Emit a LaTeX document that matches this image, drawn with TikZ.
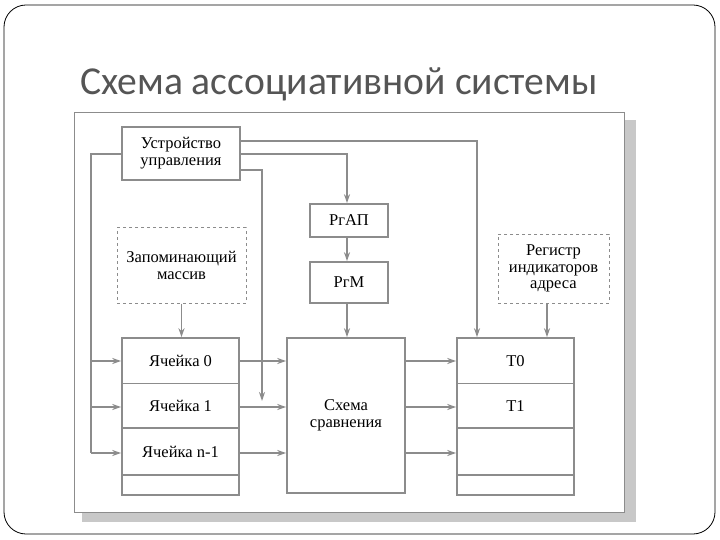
\documentclass[tikz,border=0pt]{standalone}
\usepackage{fontspec}
\setmainfont{Liberation Serif}
\newfontfamily\titlefont{Carlito}
\usetikzlibrary{arrows.meta}
\definecolor{ln}{HTML}{8C8C8C}
\definecolor{shd}{HTML}{C8C8C8}
\definecolor{ttl}{HTML}{555555}
\tikzset{
  box/.style={draw=ln, line width=1.6pt, fill=white, inner sep=0pt, align=center, font=\fontsize{16.5}{17}\selectfont},
  dbox/.style={draw=ln, line width=1pt, dashed, fill=white, inner sep=0pt, align=center, font=\fontsize{16.5}{16.5}\selectfont},
  conn/.style={draw=ln, line width=1.4pt},
  arr/.style={conn, -{Stealth[length=9pt,width=6pt]}},
  lbl/.style={font=\fontsize{16.5}{17}\selectfont, inner sep=0pt}
}
\begin{document}
\begin{tikzpicture}[x=1pt,y=-1pt]
\useasboundingbox (0,0) rectangle (720,540);
% slide frame
\draw[black, line width=0.8pt, rounded corners=22pt] (4,5) rectangle (715,534);
% title
\node[anchor=base west, inner sep=0pt, text=ttl, font=\titlefont\fontsize{39.6}{44}\selectfont] (title) at (80,95) {Схема ассоциативной системы};
% panel with shadow
\fill[shd] (82,120) rectangle (636,522);
\draw[ln, line width=1pt, fill=white] (74,113) rectangle (624,512);
% nodes
\node[box, minimum width=118pt, minimum height=53pt] (uu) at (181,153.5) {Устройство\\управления};
\node[dbox, minimum width=129pt, minimum height=75pt] (zm) at (181.5,265.5) {Запоминающий\\массив};
\node[box, minimum width=78pt, minimum height=33pt] (rap) at (349,220.5) {РгАП};
\node[box, minimum width=78pt, minimum height=41pt] (rm) at (349,282.5) {РгМ};
\node[dbox, minimum width=111pt, minimum height=69pt] (ria) at (553.5,268.5) {Регистр\\индикаторов\\адреса};
% memory cells
\node[box, minimum width=117pt, minimum height=157pt] (mem) at (180.5,416.5) {};
\node[box, minimum width=118pt, minimum height=155pt] (cmp) at (346,415.5) {Схема\\сравнения};
\node[box, minimum width=117pt, minimum height=157pt] (tt) at (515.5,416.5) {};
\draw[ln, line width=1pt] (mem.west |- 0,383) -- (mem.east |- 0,383);
\draw[ln, line width=1.6pt] (mem.west |- 0,428) -- (mem.east |- 0,428);
\draw[ln, line width=1.6pt] (mem.west |- 0,475) -- (mem.east |- 0,475);
\draw[ln, line width=1pt] (tt.west |- 0,383) -- (tt.east |- 0,383);
\draw[ln, line width=1.6pt] (tt.west |- 0,428) -- (tt.east |- 0,428);
\draw[ln, line width=1.6pt] (tt.west |- 0,475) -- (tt.east |- 0,475);
\node[lbl] (c0) at (180.5,361) {Ячейка 0};
\node[lbl] (c1) at (180.5,406) {Ячейка 1};
\node[lbl] (c2) at (180.5,452) {Ячейка n-1};
\node[lbl] (t0) at (515.5,361) {T0};
\node[lbl] (t1) at (515.5,406) {T1};
% coordinates
\coordinate (ul) at (91,154);
\coordinate (ur) at (477,141);
\coordinate (um) at (347,154);
\coordinate (ud) at (262,170);
% connectors from control unit
\draw[conn] (uu.west |- ul) -- (ul) -- (91,453);
\draw[arr] (91,361) -- (mem.west |- 0,361);
\draw[arr] (91,407) -- (mem.west |- 0,407);
\draw[arr] (91,453) -- (mem.west |- 0,453);
\draw[arr] (uu.east |- ur) -- (ur) -- (tt.north -| ur);
\draw[arr] (uu.east |- um) -- (um) -- (rap.north -| um);
\draw[arr] (uu.east |- ud) -- (ud) -- (262,401);
\draw[arr] (rap.south -| um) -- (rm.north -| um);
\draw[arr] (rm.south -| um) -- (cmp.north -| um);
\draw[arr] (zm.south) -- (mem.north -| zm.south);
\draw[arr] (ria.south -| 547,0) -- (tt.north -| 547,0);
% cells to comparison
\draw[arr] (mem.east |- 0,361) -- (cmp.west |- 0,361);
\draw[arr] (mem.east |- 0,407) -- (cmp.west |- 0,407);
\draw[arr] (mem.east |- 0,453) -- (cmp.west |- 0,453);
\draw[arr] (cmp.east |- 0,361) -- (tt.west |- 0,361);
\draw[arr] (cmp.east |- 0,407) -- (tt.west |- 0,407);
\draw[arr] (cmp.east |- 0,453) -- (tt.west |- 0,453);
\end{tikzpicture}
\end{document}
